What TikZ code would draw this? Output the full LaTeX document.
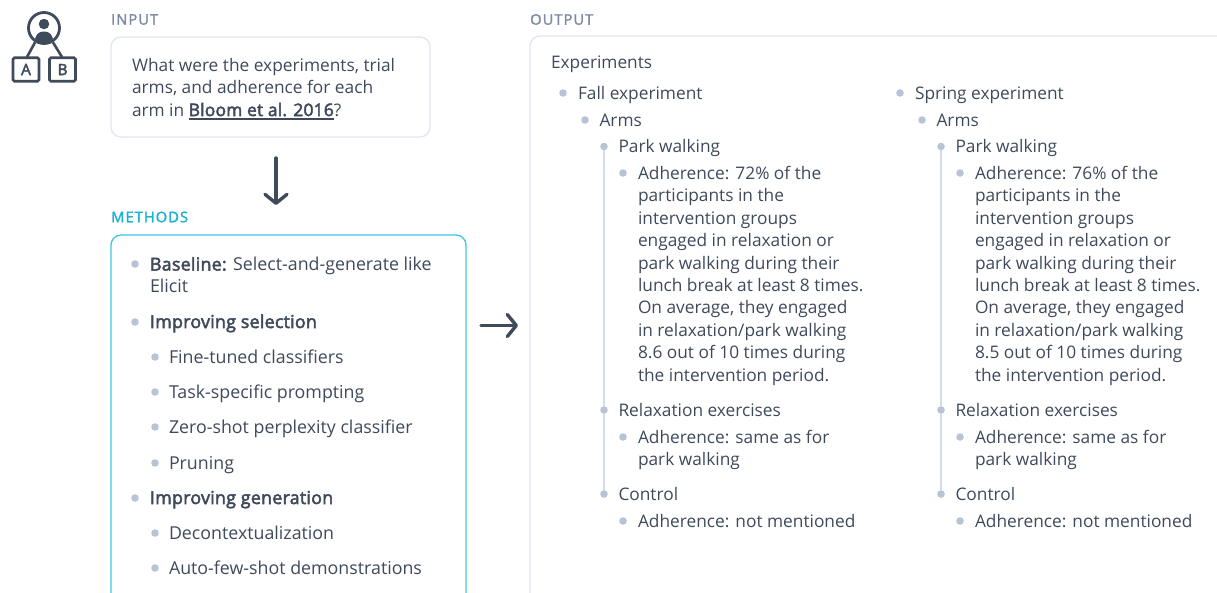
\documentclass[tikz,border=0pt]{standalone}
\usepackage{fontspec}
\setmainfont{Open Sans}[BoldFont={Open Sans},BoldFeatures={FakeBold=2.8,LetterSpace=1.5}]
\newfontfamily\labfont[LetterSpace=7,FakeBold=1.8]{Open Sans}
\usetikzlibrary{arrows.meta}
\definecolor{ink}{HTML}{3F495C}
\definecolor{arrowink}{HTML}{3F4A5A}
\definecolor{muted}{HTML}{7D8AA3}
\definecolor{cyanlab}{HTML}{1EB0D4}
\definecolor{cyanline}{HTML}{38C6E6}
\definecolor{frame}{HTML}{E1E7F0}
\definecolor{dot}{HTML}{B8C4D6}
\definecolor{rail}{HTML}{D5DDE8}
\newcommand{\ulbold}[1]{\setbox0\hbox{\bfseries #1}\rlap{\rule[-4pt]{\wd0}{2pt}}\box0}
\tikzset{
  x=1pt,y=-1pt,
  txt/.style={anchor=north west,inner sep=0pt,outer sep=0pt,align=left,text=ink,
    font=\fontsize{17.3}{22.45}\selectfont,execute at begin node={\rule{0pt}{14pt}}},
  mtxt/.style={txt,font=\fontsize{17.8}{22.45}\selectfont},
  lab/.style={anchor=west,inner sep=0pt,font=\fontsize{14.7}{16}\labfont,text=muted},
  bul/.style={circle,fill=dot,minimum size=7.6pt,inner sep=0pt,outer sep=0pt},
  panel/.style={draw=frame,line width=1.4pt},
  iconbox/.style={draw=arrowink,line width=2.6pt,rounded corners=1.5pt,minimum width=26pt,minimum height=23.5pt,inner sep=0pt,text=arrowink,font=\fontsize{15.5}{15}\selectfont\bfseries},
  bigarrow/.style={draw=arrowink,line width=3.4pt,line cap=round,
    -{Straight Barb[length=9pt,width=22pt,line width=3.4pt,round]}},
  iconline/.style={draw=arrowink,line width=2.6pt,line join=round},
  railline/.style={draw=rail,line width=2pt}
}
\begin{document}
\begin{tikzpicture}
\useasboundingbox (0,0) rectangle (1217,592);
\clip (0,0) rectangle (1217,592);

% icon
\node[circle,draw=arrowink,line width=2.8pt,minimum size=31pt,inner sep=0pt] (person) at (44,28) {};
\node[circle,fill=arrowink,minimum size=10.5pt,inner sep=0pt] (head) at (44,24) {};
\fill[arrowink] (35,39) .. controls (36.5,33) and (40,31.5) .. (44,31.5) .. controls (48,31.5) and (51.5,33) .. (53,39) .. controls (49,44) and (39,44) .. (35,39) -- cycle;
\node[iconbox] (boxA) at (26,69.5) {A};
\node[iconbox] (boxB) at (62.5,69.5) {B};
\coordinate (legA) at (27,57);
\coordinate (legB) at (62,57);
\draw[iconline] (person.-122) -- (legA);
\draw[iconline] (person.-58) -- (legB);

% input
\node[lab] (inlab) at (111,19.5) {INPUT};
\node[panel,rounded corners=10pt,minimum width=319pt,minimum height=100pt,inner sep=0pt] (inbox) at (270.5,87) {};
\node[txt] (intext) at (132,58) {What were the experiments, trial\\arms, and adherence for each\\arm in \ulbold{Bloom et al. 2016}?};

% methods
\node[lab,text=cyanlab] (metlab) at (111,217) {METHODS};
\coordinate (arrowtop) at (276,158);
\coordinate (arrowbot) at (276,205);
\draw[bigarrow] (arrowtop) -- (arrowbot);
\draw[draw=cyanline,line width=1.3pt,rounded corners=10pt] (111,620) -- (111,235) -- (466,235) -- (466,620);

\foreach \n/\bx/\tx/\y/\off/\t in {
  b/135/150/264/7/{\textbf{Baseline:} Select-and-generate like\\Elicit},
  c/135/150/322/8/{\textbf{Improving selection}},
  d/155/169/357/8/{Fine-tuned classifiers},
  e/155/169/392/8/{Task-specific prompting},
  f/155/169/427/8/{Zero-shot perplexity classifier},
  g/155/169/463/8/{Pruning},
  h/135/150/498/8/{\textbf{Improving generation}},
  i/155/169/533/8/{Decontextualization},
  j/155/169/568/8/{Auto-few-shot demonstrations}}{
  \node[bul] (dot\n) at (\bx,\y) {};
  \node[mtxt] (item\n) at (\tx,\y-\off) {\t};
}

\coordinate (rightstart) at (481,325.5);
\coordinate (rightend) at (518,325.5);
\draw[bigarrow] (rightstart) -- (rightend);

% output
\node[lab] (outlab) at (530,19.5) {OUTPUT};
\draw[panel,rounded corners=10pt] (530,620) -- (530,36) -- (1240,36);
\node[txt] (exp) at (551,54) {Experiments};

\foreach \c/\o/\name/\p/\a in {L/0/Fall/72/8.6,R/337/Spring/76/8.5}{
  \node[bul] (exp\c) at (563+\o,93) {};
  \node[txt] (expt\c) at (578+\o,85) {\name\ experiment};
  \node[bul] (arms\c) at (585+\o,120) {};
  \node[txt] (armst\c) at (599.5+\o,112) {Arms};
  \node[bul] (park\c) at (604+\o,146.5) {};
  \node[txt] (parkt\c) at (618.5+\o,138.5) {Park walking};
  \node[bul] (pa\c) at (623+\o,173) {};
  \node[txt] (pat\c) at (638+\o,166) {Adherence: \p\% of the\\participants in the\\intervention groups\\engaged in relaxation or\\park walking during their\\lunch break at least 8 times.\\On average, they engaged\\in relaxation/park walking\\\a\ out of 10 times during\\the intervention period.};
  \node[bul] (rel\c) at (604+\o,410) {};
  \node[txt] (relt\c) at (618.5+\o,402) {Relaxation exercises};
  \node[bul] (ra\c) at (623+\o,437) {};
  \node[txt] (rat\c) at (638+\o,430) {Adherence: same as for\\park walking};
  \node[bul] (con\c) at (604+\o,494) {};
  \node[txt] (cont\c) at (618.5+\o,486) {Control};
  \node[bul] (ca\c) at (623+\o,521) {};
  \node[txt] (cat\c) at (638+\o,513) {Adherence: not mentioned};
  \draw[railline] (park\c) -- (rel\c);
  \draw[railline] (rel\c) -- (con\c);
}
\end{tikzpicture}
\end{document}
